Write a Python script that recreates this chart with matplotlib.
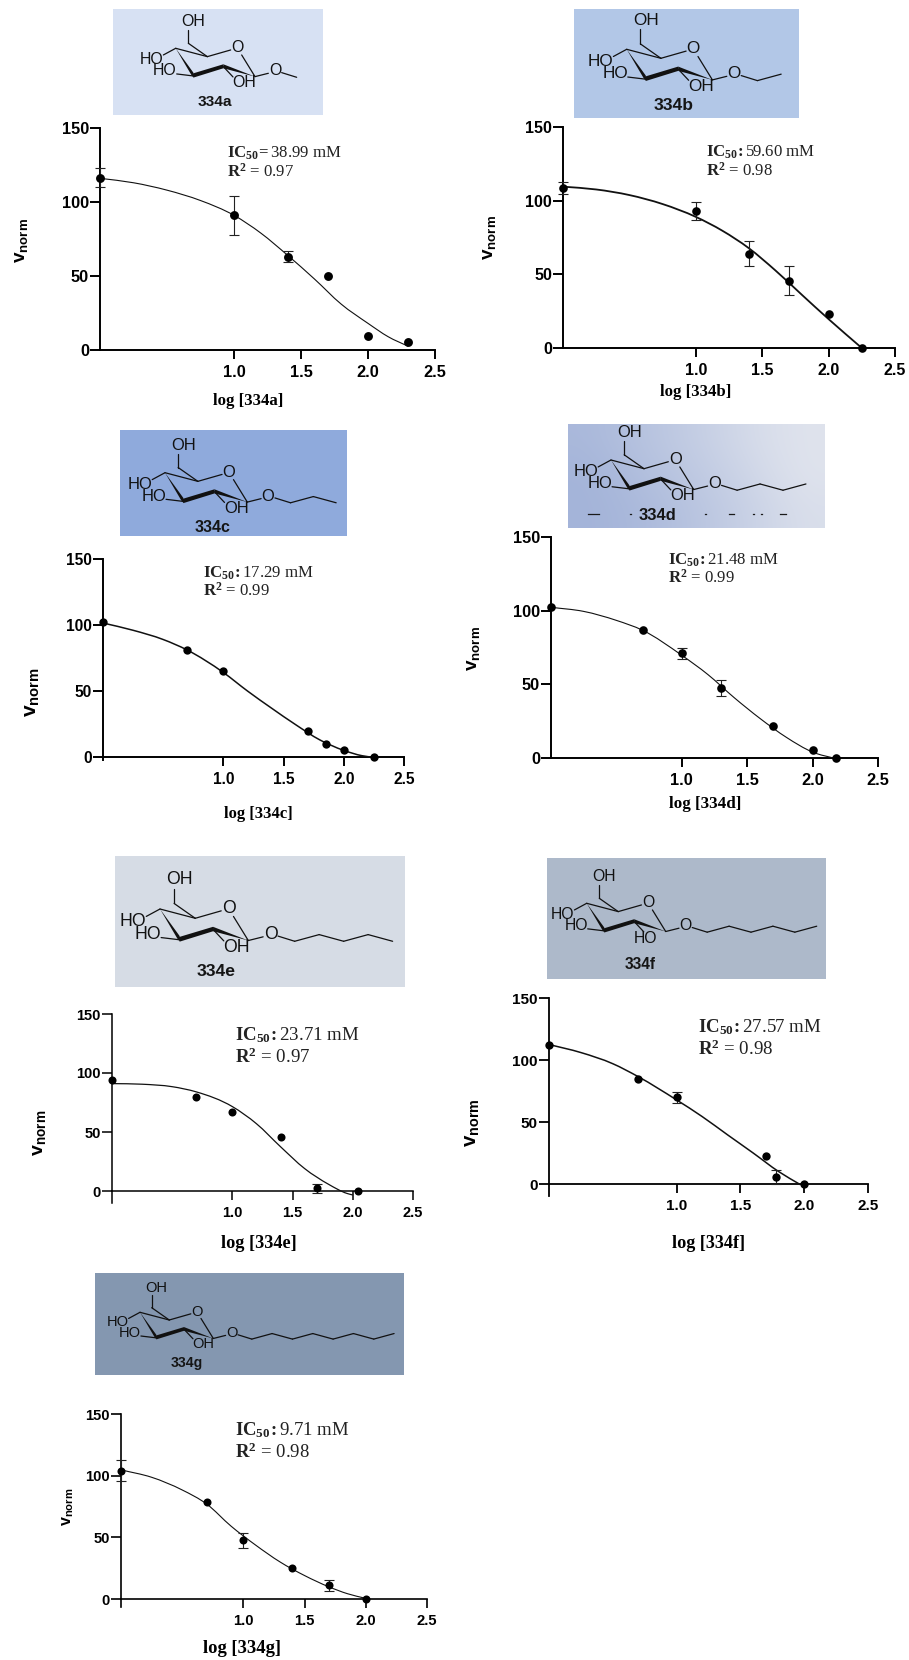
import numpy as np
import matplotlib
matplotlib.use("Agg")
import matplotlib.pyplot as plt
from matplotlib.patches import Polygon, Rectangle, PathPatch
from matplotlib.path import Path

plt.rcParams.update({
    'font.family': ['Liberation Sans', 'DejaVu Sans'],
    'mathtext.fontset': 'custom',
    'mathtext.rm': 'Liberation Serif',
    'mathtext.bf': 'Liberation Serif:bold',
    'mathtext.sf': 'Liberation Sans:bold',
    'mathtext.it': 'Liberation Serif:italic',
})

W, H = 909, 1660
PT = 0.72  # points per pixel at dpi 100

# ---------- data ----------
compounds = ['334a', '334b', '334c', '334d', '334e', '334f', '334g']
ic50_text = ['38.99', '59.60', '17.29', '21.48', '23.71', '27.57', '9.71']
ic50_sep = ['=', ':', ':', ':', ':', ':', ':']
r2_text = ['0.97', '0.98', '0.99', '0.99', '0.97', '0.98', '0.98']
x_tick_labels = ['1.0', '1.5', '2.0', '2.5']
x_tick_vals = [1.0, 1.5, 2.0, 2.5]
y_tick_vals = [0, 50, 100, 150]

x_a = [0, 1, 1.4, 1.7, 2, 2.3]
y_a = [116.5, 91, 63, 50, 9.2, 5.4]
e_a = [6.4, 13.2, 3.6, 0, 0, 0]
cx_a = [0, .25, .5, .75, 1, 1.2, 1.4, 1.6, 1.8, 2, 2.15, 2.3]
cy_a = [116, 113, 108, 101, 91, 79, 64, 48, 31, 18, 9, 2.5]

x_b = [0, 1, 1.4, 1.7, 2, 2.25]
y_b = [108.5, 93, 64, 45.6, 23, 0]
e_b = [4, 6, 8.5, 9.8, 0, 0]
cx_b = [0, .25, .5, .75, 1, 1.2, 1.4, 1.6, 1.8, 2, 2.25]
cy_b = [109.5, 107.6, 103.8, 97.7, 89, 79.6, 67.7, 52.6, 36, 19.6, 0]

x_c = [0, .7, 1, 1.7, 1.85, 2, 2.25]
y_c = [102, 81, 65, 20, 10, 5, 0]
e_c = [0, 0, 0, 0, 0, 0, 0]
cx_c = [0, .25, .5, .7, 1, 1.2, 1.4, 1.6, 1.8, 2, 2.15, 2.25]
cy_c = [101.5, 96, 89, 81, 64, 50, 37, 24.5, 13, 5, 1, -.3]

x_d = [0, .7, 1, 1.3, 1.7, 2, 2.18]
y_d = [102.3, 86.7, 71, 47.5, 22, 5.4, 0]
e_d = [0, 0, 3.6, 5.6, 0, 0, 0]
cx_d = [0, .25, .5, .7, 1, 1.2, 1.4, 1.6, 1.8, 2, 2.18]
cy_d = [102.3, 99.5, 93.4, 86.7, 69.7, 56.6, 41, 26.7, 14, 4, -.5]

x_e = [0, .7, 1, 1.4, 1.7, 2.04]
y_e = [94, 80, 67, 45.5, 2.3, 0]
e_e = [0, 0, 0, 0, 4, 0]
cx_e = [0, .25, .5, .7, 1, 1.2, 1.4, 1.6, 1.8, 1.95, 2.0]
cy_e = [91, 90.5, 88.4, 84, 71.5, 57, 37.5, 19, 5.6, -2, -3.4]

x_f = [0, .7, 1, 1.7, 1.78, 2]
y_f = [112.5, 84.6, 70, 22.8, 5.6, 0]
e_f = [0, 0, 4.4, 0, 6, 0]
cx_f = [0, .25, .5, .7, 1, 1.2, 1.4, 1.6, 1.8, 1.97]
cy_f = [112.5, 106, 97, 86.5, 67.8, 54.4, 39.6, 25, 10, -.5]

x_g = [0, .7, 1, 1.4, 1.7, 2]
y_g = [104, 79, 47.7, 25.2, 11, 0]
e_g = [8.3, 0, 6.2, 0, 4.5, 0]
cx_g = [0, .25, .5, .7, .9, 1.1, 1.3, 1.5, 1.7, 1.85, 2]
cy_g = [104.7, 98.7, 88.4, 77, 59, 43.7, 30, 19, 9.8, 4.3, .5]

series_x = [x_a, x_b, x_c, x_d, x_e, x_f, x_g]
series_y = [y_a, y_b, y_c, y_d, y_e, y_f, y_g]
series_e = [e_a, e_b, e_c, e_d, e_e, e_f, e_g]
curve_x = [cx_a, cx_b, cx_c, cx_d, cx_e, cx_f, cx_g]
curve_y = [cy_a, cy_b, cy_c, cy_d, cy_e, cy_f, cy_g]
chain_carbons = [1, 2, 3, 4, 5, 6, 8]

# ---------- layout in reference pixels ----------
axes_px = [(100, 435, 128, 350), (563, 895, 127, 348), (103, 404, 559, 757),
           (551, 878, 537, 758), (112, 413, 1014, 1191), (549, 868, 998, 1184),
           (121, 427, 1414, 1599)]
box_px = [(113, 323, 9, 115), (574, 799, 9, 118), (120, 347, 430, 536),
          (568, 825, 424, 528), (115, 405, 856, 987), (547, 826, 858, 979),
          (95, 404, 1273, 1375)]
box_col = ['#d7e1f3', '#b2c7e7', '#8faadc', None, '#d6dce5', '#adb9ca', '#8497b0']
ring_c4 = [(175.7, 48.3), (626.7, 49.3), (165, 472.7), (611, 460), (160, 909),
           (586.7, 903.3), (140, 1312.3)]
ring_w = [79.3, 85.7, 82.3, 82.7, 88.3, 79, 73.3]
label_xy = [(215, 102), (674, 106), (213, 527), (657, 515), (216, 971), (640, 964), (187, 1363)]
label_px = [15.4, 17.5, 16, 16.5, 17.5, 15.5, 14]
tick_px = [16.4, 16, 15.5, 16.4, 14.6, 15.2, 14.8]
xlabel_xy = [(248, 401), (696, 392), (258, 814), (705, 804), (259, 1243), (709, 1243), (242, 1648)]
xlabel_px = [16.7, 16.7, 16.6, 17, 18.3, 18.1, 18.7]
ylabel_xy = [(21, 240), (490, 237), (32, 692), (473, 648), (40, 1133), (472, 1123), (68, 1507)]
ylabel_px = [19, 19, 21, 19, 19.5, 20.5, 16]
note_xy = [(227, 153, 172), (706, 152, 171), (203, 573, 591), (668, 560, 578),
           (235, 1035, 1057), (698, 1027, 1049), (235, 1430, 1452)]
note_px = [16.8, 16.8, 16.8, 16.8, 18.9, 18.9, 18.8]
zero_tick = [0, 0, 3, 0, 12, 12, 8]
axis_lw = [1.4, 1.4, 1.4, 1.4, 1.1, 1.3, 1.2]
curve_lw = [0.8, 1.3, 1.1, 0.8, 0.9, 1.1, 0.8]
marker_ms = [6.4, 6.2, 6.0, 6.2, 5.8, 6.0, 5.8]

fig = plt.figure(figsize=(W / 100, H / 100), dpi=100, facecolor='white')
bg = fig.add_axes([0, 0, 1, 1], zorder=0)
bg.set_axis_off()


def smooth_path(xs, ys):
    """Bezier path through the read points (tangents from neighbours)."""
    p = np.column_stack([xs, ys]).astype(float)
    h = np.diff(p[:, 0])
    slope = np.diff(p[:, 1]) / h
    m = np.empty(len(p))
    m[0], m[-1] = slope[0], slope[-1]
    m[1:-1] = (slope[:-1] * h[1:] + slope[1:] * h[:-1]) / (h[:-1] + h[1:])
    verts, codes = [tuple(p[0])], [Path.MOVETO]
    for k in range(len(h)):
        verts += [(p[k, 0] + h[k] / 3, p[k, 1] + m[k] * h[k] / 3),
                  (p[k + 1, 0] - h[k] / 3, p[k + 1, 1] - m[k + 1] * h[k] / 3),
                  tuple(p[k + 1])]
        codes += [Path.CURVE4] * 3
    return Path(verts, codes)


def draw_molecule(cx, cy, w, n_carbons, variant):
    s = w / 238.0
    P = lambda p: (cx + p[0] * s, cy + p[1] * s)
    ink = '#111111'
    lw = 0.9

    def seg(a, b):
        pa, pb = P(a), P(b)
        bg.plot([pa[0], pb[0]], [pa[1], pb[1]], color=ink, lw=lw, solid_capstyle='round')

    def txt(p, t):
        pp = P(p)
        bg.text(pp[0], pp[1], t, ha='center', va='center', color=ink,
                fontsize=w * 0.2 * PT)

    C4, C5, O, C1, C2, C3 = (0, 0), (95, 25), (185, -2), (238, 85), (143, 55), (53, 83)
    seg(C4, C5)
    seg(C5, (165, 5))
    seg((198, 20), C1)
    seg(C5, (38, -15))
    seg((38, -15), (38, -55))
    seg(C4, (-37, 20))
    seg(C3, (3, 77))
    seg(C2, (172, 86))
    seg(C1, (278, 75))
    t = 14
    bg.add_patch(Polygon([P(C4), P((53, 83 - t / 2 - 3)), P((53, 83 + t / 2 - 3)), P((47, 80))],
                         closed=True, color=ink, lw=0))
    bg.add_patch(Polygon([P((50, 76)), P((143, 48)), P((143, 60)), P((53, 88))],
                         closed=True, color=ink, lw=0))
    bg.add_patch(Polygon([P((143, 48)), P(C1), P((143, 60))], closed=True, color=ink, lw=0))
    txt((53, -80), 'OH')
    txt((-72, 33), 'HO')
    txt((-32, 68), 'HO')
    txt((206, 103) if variant != 'f' else (178, 107), 'OH' if variant != 'f' else 'HO')
    txt((185, -2), 'O')
    txt((298, 68), 'O')
    # alkyl chain, one bond per carbon after the glycosidic oxygen
    xs, ys = [318], [73]
    px_, py_ = 363, 87
    for i in range(n_carbons):
        xs.append(px_ + 66 * i)
        ys.append(py_ if i % 2 == 0 else py_ - 18)
    for i in range(len(xs) - 1):
        seg((xs[i], ys[i]), (xs[i + 1], ys[i + 1]))


for i, name in enumerate(compounds):
    x0, x1, y0, y1 = box_px[i]
    if box_col[i] is None:
        grad = np.array([[0.0, .18, .36, .55, .78, 1.0]])
        grad = np.vstack([grad + .10, grad, np.clip(grad - .10, 0, 1)])
        c1, c2 = np.array([0xa4, 0xb4, 0xd9]) / 255, np.array([0xdf, 0xe3, 0xed]) / 255
        rgb = c1 + np.clip(grad, 0, 1)[..., None] * (c2 - c1)
        bg.imshow(rgb, extent=(x0, x1, y1, y0), aspect='auto', interpolation='bicubic', zorder=0)
    else:
        bg.add_patch(Rectangle((x0, y0), x1 - x0, y1 - y0, fc=box_col[i], ec='none', zorder=0))
    draw_molecule(ring_c4[i][0], ring_c4[i][1], ring_w[i], chain_carbons[i], name[-1])
    bg.text(*label_xy[i], name, ha='center', va='center', fontweight='bold',
            fontsize=label_px[i] * PT, color='#151515')

# scan remnants in the 334d box
for a, b in [(588, 599), (630, 631), (705, 706), (729, 734), (753, 754), (761, 762), (780, 786)]:
    bg.plot([a, b], [514.5, 514.5], color='#1a1a1a', lw=0.9)

for i, name in enumerate(compounds):
    xl, xr, yt, yb = axes_px[i]
    ax = fig.add_axes([xl / W, 1 - yb / H, (xr - xl) / W, (yb - yt) / H], zorder=1)
    ax.patch.set_visible(False)
    ax.set_xlim(0, 2.5)
    ax.set_ylim(0, 150)
    for side in ('top', 'right'):
        ax.spines[side].set_visible(False)
    for side in ('left', 'bottom'):
        ax.spines[side].set_linewidth(axis_lw[i])
    ax.set_xticks(x_tick_vals)
    ax.set_xticklabels(x_tick_labels)
    ax.set_yticks(y_tick_vals)
    fs = tick_px[i] * PT
    ax.tick_params(axis='x', length=6.5, width=axis_lw[i], pad=4, labelsize=fs)
    ax.tick_params(axis='y', length=7, width=axis_lw[i], pad=1, labelsize=fs)
    for lab in ax.get_xticklabels() + ax.get_yticklabels():
        lab.set_fontweight('bold')
    if zero_tick[i]:
        ax.plot([0, 0], [0, -zero_tick[i] * 150 / (yb - yt)], color='black',
                lw=axis_lw[i], clip_on=False)
    ax.add_patch(PathPatch(smooth_path(curve_x[i], curve_y[i]), fc='none', ec='#111111',
                           lw=curve_lw[i], clip_on=False, zorder=3))
    xv, yv, ev = np.array(series_x[i]), np.array(series_y[i]), np.array(series_e[i])
    m = ev > 0
    ax.errorbar(xv[m], yv[m], yerr=ev[m], fmt='none', ecolor='#222222', elinewidth=0.8,
                capsize=3.4, capthick=0.8, clip_on=False, zorder=3)
    ax.plot(xv, yv, 'o', color='black', ms=marker_ms[i], mew=0, clip_on=False, zorder=4)

    bg.text(*xlabel_xy[i], f'log [{name}]', ha='center', va='center',
            family='Liberation Serif', fontweight='bold', fontsize=xlabel_px[i] * PT)
    bg.text(*ylabel_xy[i], r'$\mathsf{v_{norm}}$', ha='center', va='center', rotation=90,
            fontsize=ylabel_px[i] * PT)
    nx, ny1, ny2 = note_xy[i]
    bg.text(nx, ny1, rf'$\mathbf{{IC_{{50}}}}\!\mathbf{{{ic50_sep[i]}}}\!\!$ {ic50_text[i]} mM',
            ha='left', va='center', family='Liberation Serif', fontsize=note_px[i] * PT,
            color='#222222')
    bg.text(nx, ny2, rf'$\mathbf{{R^{{2}}}}$ = {r2_text[i]}', ha='left', va='center',
            family='Liberation Serif', fontsize=note_px[i] * PT, color='#222222')

bg.set_xlim(0, W)
bg.set_ylim(H, 0)
fig.savefig('out.png', dpi=100, facecolor='white')
